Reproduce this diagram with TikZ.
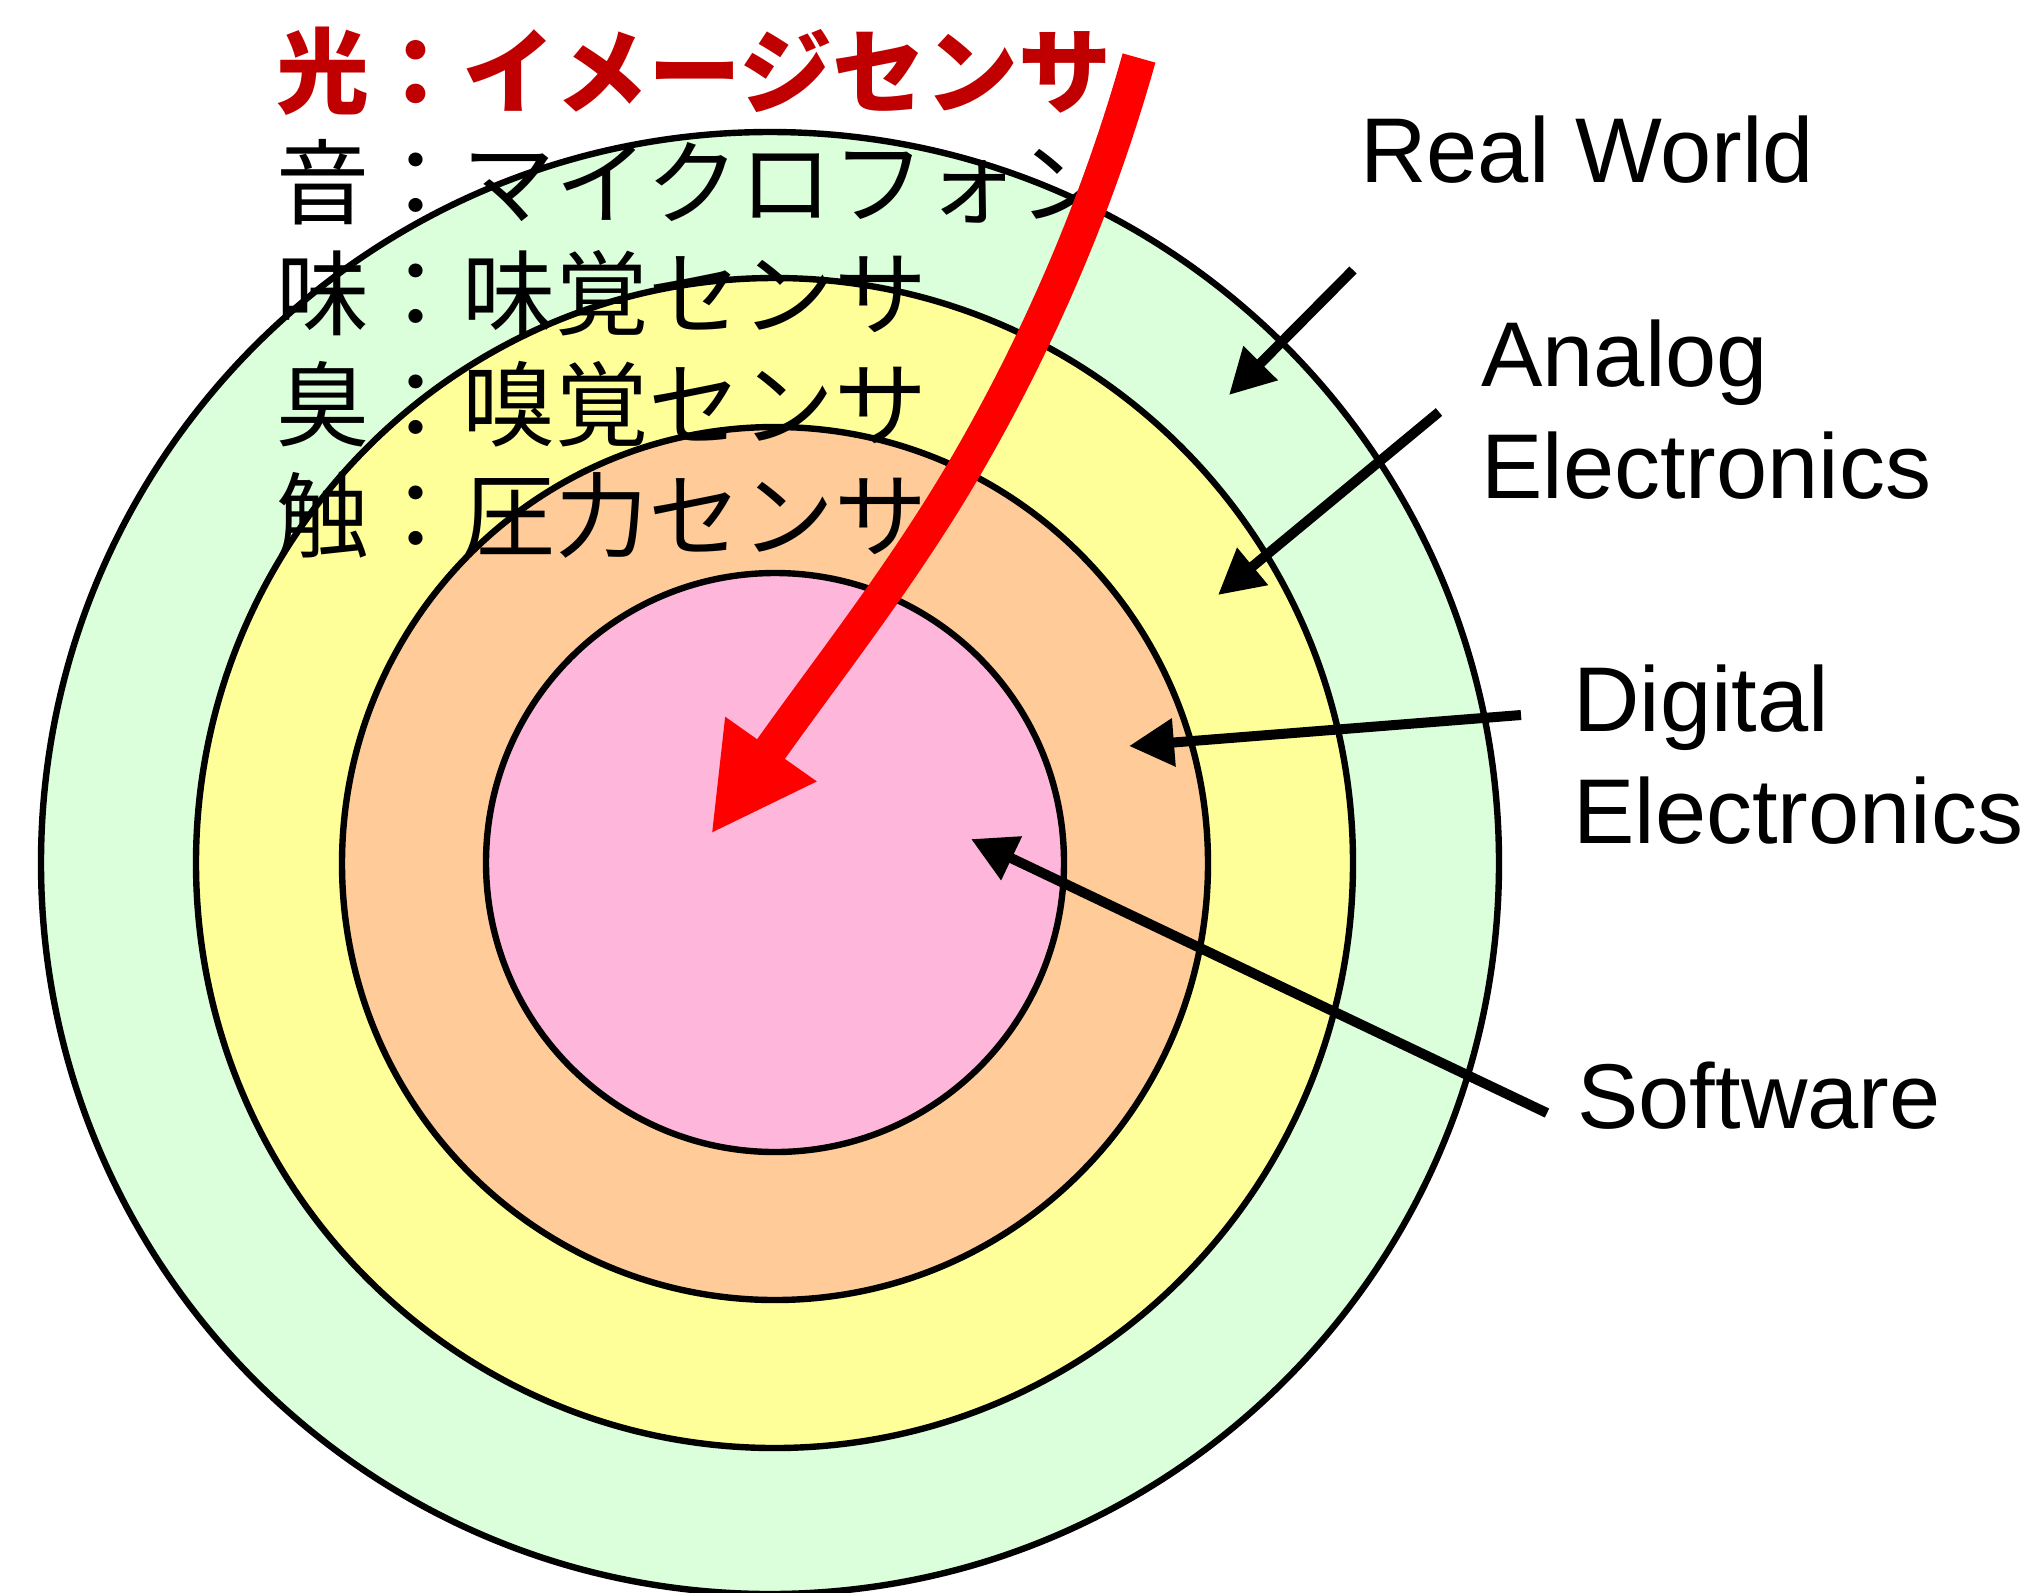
\documentclass[tikz,border=0pt]{standalone}
\usepackage{fontspec}
\setmainfont{Liberation Sans}
\newfontfamily\cjk{Noto Sans CJK JP}
\usetikzlibrary{arrows.meta}
\definecolor{ringgreen}{HTML}{DAFFDA}
\definecolor{ringyellow}{HTML}{FFFF99}
\definecolor{ringorange}{HTML}{FFCC99}
\definecolor{ringpink}{HTML}{FFB6DB}
\definecolor{textred}{HTML}{C00000}
\definecolor{arrowred}{HTML}{FF0000}
\tikzset{
  ring/.style={draw=black, line width=3.2pt},
  lbl/.style={font=\fontsize{46}{55.6}\selectfont, anchor=base west, inner sep=0pt, align=left},
  jp/.style={font=\cjk\fontsize{46.5}{55.5}\selectfont, anchor=base west, inner sep=0pt},
  pointer/.style={draw=black, line width=5pt, -{Triangle[length=22.5pt,width=23pt]}},
  lightray/.style={draw=arrowred, line width=17pt, -{Triangle[length=52pt,width=52pt]}}
}
\begin{document}
\begin{tikzpicture}[x=0.5pt,y=-0.5pt]
\useasboundingbox (0,0) rectangle (2034,1592);
% concentric regions
\draw[ring, fill=ringgreen]  (770,863) ellipse [x radius=729, y radius=731];
\draw[ring, fill=ringyellow] (774.5,863) ellipse [x radius=578.5, y radius=585];
\draw[ring, fill=ringorange] (775,863.5) ellipse [x radius=433, y radius=436.5];
\draw[ring, fill=ringpink]   (775,862.5) ellipse [x radius=289, y radius=289.5];
% Japanese sensor list
\node[jp, text=textred, font=\cjk\bfseries\fontsize{46.5}{55.5}\selectfont] (j1) at (276,106) {光：イメージセンサ};
\node[jp] (j2) at (276,217) {音：マイクロフォン};
\node[jp] (j3) at (276,328) {味：味覚センサ};
\node[jp] (j4) at (276,439) {臭：嗅覚センサ};
\node[jp] (j5) at (276,550) {触：圧力センサ};
% English labels (base = baseline of last line)
\node[lbl] (real) at (1360,182) {Real World};
\node[lbl] (analog) at (1481,498) {Analog\\Electronics};
\node[lbl] (digital) at (1573,843) {Digital\\Electronics};
\node[lbl] (soft) at (1577,1128) {Software};
% pointer ends
\coordinate (rwS) at (1353,270);  \coordinate (rwT) at (1229,395);
\coordinate (anS) at (1439,412);  \coordinate (anT) at (1218,595);
\coordinate (diS) at (1521,715);  \coordinate (diT) at (1129,746);
\coordinate (swS) at (1547,1113); \coordinate (swT) at (971,839);
\draw[pointer] (rwS) -- (rwT);
\draw[pointer] (anS) -- (anT);
\draw[pointer] (diS) -- (diT);
\draw[pointer] (swS) -- (swT);
% red light ray
\coordinate (rayS) at (1139,58);
\coordinate (rayM) at (970,459);
\coordinate (rayT) at (711,834);
\draw[lightray] (rayS) .. controls (1100,197) and (1042.5,333) .. (rayM)
  .. controls (905,572) and (826.4,670.6) .. (rayT);
\end{tikzpicture}
\end{document}
